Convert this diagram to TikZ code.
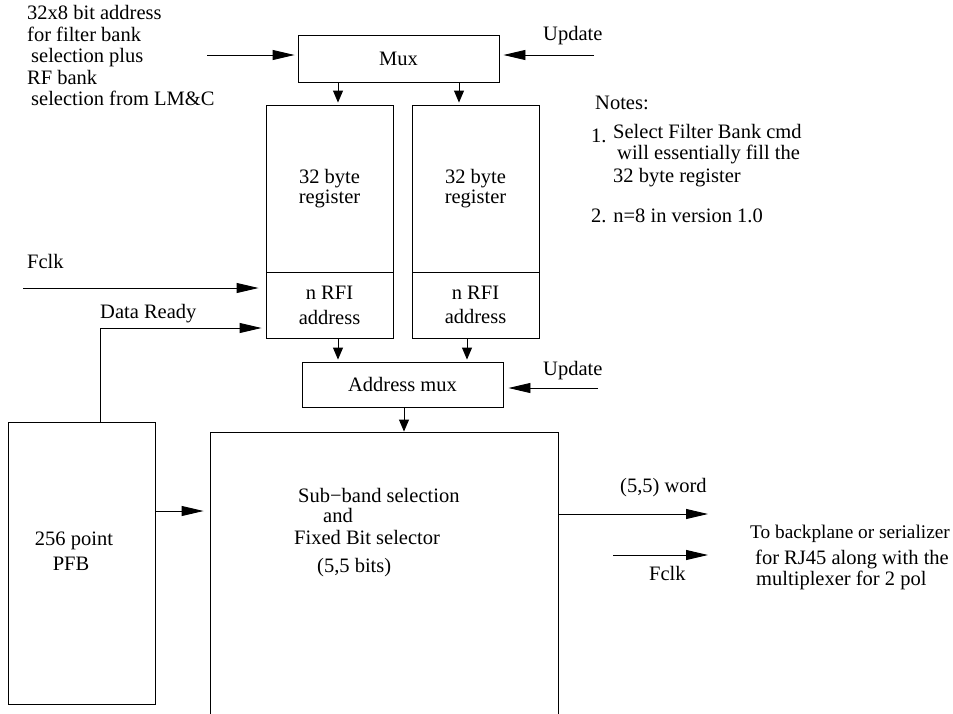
\documentclass[tikz,border=0pt]{standalone}
\usepackage{fontspec}
\setmainfont{Liberation Serif}
\usetikzlibrary{arrows.meta}
\begin{document}
\begin{tikzpicture}[x=1pt,y=-1pt,
  every node/.style={font=\fontsize{20.5}{20}\selectfont},
  box/.style={draw, line width=0.9pt, inner sep=0pt},
  lbl/.style={inner sep=0pt, anchor=base west},
  harrow/.style={line width=0.9pt, -{Triangle[length=22pt,width=10pt]}, shorten >=4pt},
  varrow/.style={line width=0.9pt, -{Triangle[length=12pt,width=10pt]}, shorten >=2pt}
]
\useasboundingbox (0,0) rectangle (953,713);
\clip (0,0) rectangle (953,713);

% boxes
\node[box, minimum width=201pt, minimum height=47pt] (mux) at (398.5,58.5) {Mux};
\node[box, minimum width=127pt, minimum height=167pt, align=center] (r1t) at (329.5,188.5) {32 byte\\register};
\node[box, minimum width=127pt, minimum height=66pt, align=center, font=\fontsize{20.5}{25}\selectfont] (r1b) at (329.5,305) {n RFI\\address};
\node[box, minimum width=127pt, minimum height=167pt, align=center] (r2t) at (475.5,188.5) {32 byte\\register};
\node[box, minimum width=127pt, minimum height=66pt, align=center, font=\fontsize{20.5}{24}\selectfont] (r2b) at (475.5,305) {n RFI\\address};
\node[box, minimum width=201pt, minimum height=45pt] (amux) at (402.5,384.5) {Address mux};
\node[box, minimum width=348pt, minimum height=300pt] (sel) at (384,582) {};
\node[box, minimum width=147pt, minimum height=282pt] (pfb) at (81.5,563) {};

% texts
\node[lbl] (tl1) at (27,19) {32x8 bit address};
\node[lbl] (tl2) at (27,41) {for filter bank};
\node[lbl] (tl3) at (31,62) {selection plus};
\node[lbl] (tl4) at (27,84) {RF bank};
\node[lbl] (tl5) at (31,105) {selection from LM\&C};
\node[lbl] (up1) at (543,40) {Update};
\node[lbl] (up2) at (543,375) {Update};
\node[lbl] (n0) at (595,109) {Notes:};
\node[lbl] (n1) at (591,142) {1.};
\node[lbl] (n1a) at (613,138) {Select Filter Bank cmd};
\node[lbl] (n1b) at (617,159) {will essentially fill the};
\node[lbl] (n1c) at (613,182) {32 byte register};
\node[lbl] (n2) at (591,222) {2. n=8 in version 1.0};
\node[lbl] (fc1) at (27,268) {Fclk};
\node[lbl] (dr) at (100,318) {Data Ready};
\node[inner sep=0pt, anchor=base] (pf1) at (74,545) {256 point};
\node[inner sep=0pt, anchor=base] (pf2) at (71,570) {PFB};
\node[lbl] (s1) at (298,502) {Sub−band selection};
\node[lbl] (s2) at (323,522) {and};
\node[lbl] (s3) at (294,544) {Fixed Bit selector};
\node[lbl] (s4) at (317,572) {(5,5 bits)};
\node[lbl] (w1) at (620,492) {(5,5) word};
\node[lbl] (fc2) at (649,580) {Fclk};
\node[lbl, font=\fontsize{19.3}{20}\selectfont] (o1) at (750,538) {To backplane or serializer};
\node[lbl] (o2) at (755,564) {for RJ45 along with the};
\node[lbl] (o3) at (756,585) {multiplexer for 2 pol};

% connectors
\coordinate (in1) at (207,55);
\coordinate (upd1) at (594,55);
\coordinate (upd2) at (598,388);
\coordinate (fclk1) at (23,288);
\coordinate (out1) at (708,514);
\coordinate (fc2a) at (613,555);
\coordinate (fc2b) at (708,555);
\draw[harrow, shorten >=3pt] (in1) -- (in1 -| mux.west);
\draw[harrow] (upd1) -- (upd1 -| mux.east);
\draw[varrow] (mux.south -| 338,0) -- (r1t.north -| 338,0);
\draw[varrow] (mux.south -| 459,0) -- (r2t.north -| 459,0);
\draw[varrow] (r1b.south -| 338,0) -- (amux.north -| 338,0);
\draw[varrow] (r2b.south -| 467,0) -- (amux.north -| 467,0);
\draw[varrow, shorten >=0pt] (amux.south -| 404,0) -- (sel.north -| 404,0);
\draw[harrow, shorten >=5pt] (upd2) -- (upd2 -| amux.east);
\draw[harrow, shorten >=7pt] (fclk1) -- (fclk1 -| r1b.west);
\draw[harrow] (pfb.north -| 100,0) |- (r1b.west |- 0,328);
\draw[harrow, shorten >=6pt] (pfb.east |- 0,511) -- (sel.west |- 0,511);
\draw[harrow, shorten >=0pt] (sel.east |- out1) -- (out1);
\draw[harrow, shorten >=0pt] (fc2a) -- (fc2b);
\end{tikzpicture}
\end{document}
